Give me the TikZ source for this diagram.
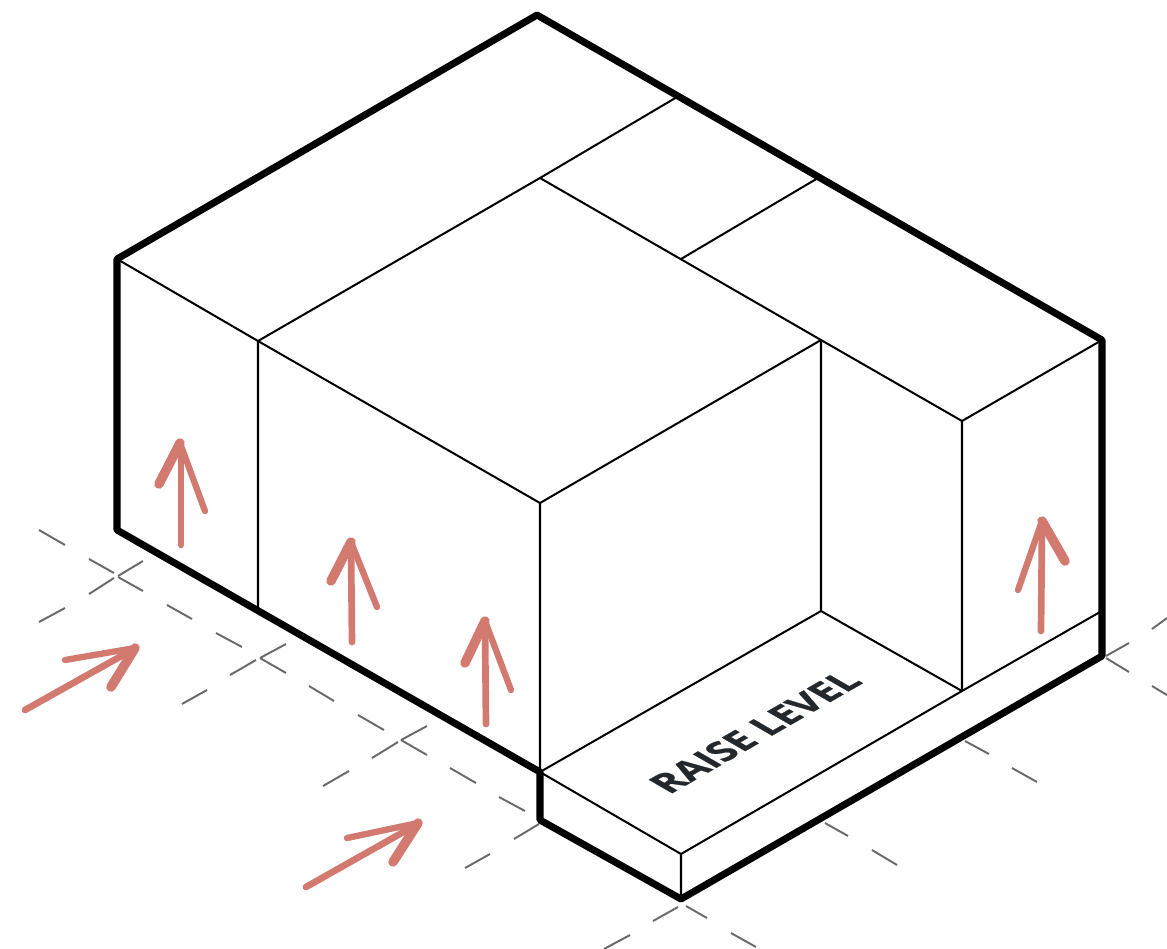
\documentclass[tikz,border=0pt]{standalone}
\usepackage{fontspec}
\setmainfont{Open Sans}
\newfontfamily\raisefont[BoldFeatures={FakeBold=0.6}]{Open Sans}
\usetikzlibrary{calc}
\definecolor{outline}{RGB}{0,0,0}
\definecolor{gridgray}{RGB}{105,105,105}
\definecolor{flow}{RGB}{210,122,111}
\definecolor{labeltext}{RGB}{34,40,43}

\begin{document}
\begin{tikzpicture}[
    x=0.02cm, y=-0.02cm,
    wall/.style={line width=4pt, draw=outline, line join=round},
    edge/.style={line width=1.15pt, draw=outline, line join=round},
    gridline/.style={line width=1.1pt, draw=gridgray},
    shaft/.style={line width=3.8pt, draw=flow, line cap=round},
    barb/.style={line width=3.6pt, draw=flow, line cap=round},
    fatbarb/.style={line width=5.4pt, draw=flow, line cap=round}
]
\useasboundingbox (0,0) rectangle (1167,948);

% Outer corners
\coordinate (top) at (537,15);
\coordinate (left_top) at (117,259);
\coordinate (left_base) at (117,530);
\coordinate (step_top) at (540,772);
\coordinate (step_base) at (540,820);
\coordinate (front) at (681,899);
\coordinate (right_base) at (1102,656);
\coordinate (right_top) at (1102,340);

% Inner corners
\coordinate (block_left) at (258,341);
\coordinate (block_left_base) at (258,608);
\coordinate (block_back) at (540,178);
\coordinate (block_front) at (540,503);
\coordinate (block_right) at (821,340);
\coordinate (block_right_base) at (821,611);
\coordinate (ridge_a) at (677,97);
\coordinate (ridge_b) at (681,259);
\coordinate (ridge_c) at (818,178);
\coordinate (wing_top) at (962,421);
\coordinate (wing_base) at (962,691);
\coordinate (wing_end) at (1100,612);
\coordinate (slab_front) at (681,854);

% Grid
\draw[gridline] (39,530) -- (65,545);
\draw[gridline] (89,559) -- (114,573);
\draw[gridline] (118,577) -- (143,591);
\draw[gridline] (167,605) -- (192,619);
\draw[gridline] (216,633) -- (242,647);
\draw[gridline] (260,658) -- (286,673);
\draw[gridline] (309,686) -- (334,701);
\draw[gridline] (358,715) -- (384,730);
\draw[gridline] (401,740) -- (427,755);
\draw[gridline] (450,768) -- (476,783);
\draw[gridline] (499,797) -- (525,811);
\draw[gridline] (143,561) -- (118,576);
\draw[gridline] (114,578) -- (89,594);
\draw[gridline] (65,608) -- (39,622);
\draw[gridline] (286,644) -- (260,658);
\draw[gridline] (256,660) -- (230,675);
\draw[gridline] (207,690) -- (182,704);
\draw[gridline] (427,726) -- (401,740);
\draw[gridline] (398,742) -- (372,758);
\draw[gridline] (349,771) -- (323,786);
\draw[gridline] (539,824) -- (514,839);
\draw[gridline] (490,854) -- (465,868);
\draw[gridline] (1167,618) -- (1152,629);
\draw[gridline] (1129,643) -- (1106,656);
\draw[gridline] (1106,658) -- (1129,672);
\draw[gridline] (1152,686) -- (1167,695);
\draw[gridline] (965,741) -- (989,754);
\draw[gridline] (1012,768) -- (1037,782);
\draw[gridline] (825,823) -- (848,836);
\draw[gridline] (872,850) -- (897,865);
\draw[gridline] (686,906) -- (707,918);
\draw[gridline] (731,933) -- (756,947);
\draw[gridline] (678,907) -- (653,921);
\draw[gridline] (630,935) -- (604,949);

% Thin edges
\draw[edge] (left_top) -- (block_left) -- (block_left_base);
\draw[edge] (block_left) -- (block_front) -- (step_top);
\draw[edge] (block_front) -- (block_right) -- (block_back) -- (block_left);
\draw[edge] (block_back) -- (ridge_a);
\draw[edge] (ridge_b) -- (ridge_c);
\draw[edge] (block_right) -- (wing_top) -- (right_top);
\draw[edge] (block_right) -- (block_right_base) -- (step_top) -- (slab_front) -- (front);
\draw[edge] (block_right_base) -- (wing_base) -- (wing_end);
\draw[edge] (wing_top) -- (wing_base) -- (slab_front);

% Outline
\draw[wall] (top) -- (left_top) -- (left_base) -- (step_top) -- (step_base) -- (front) -- (right_base) -- (right_top) -- cycle;

% Flow arrows
\draw[shaft] (181,545) -- (181,445);
\draw[fatbarb] (159,484) -- (180,443);
\draw[barb] (180,443) -- (205,511);
\draw[shaft] (352,642) -- (351,545);
\draw[fatbarb] (331,581) -- (351,542);
\draw[barb] (351,542) -- (377,607);
\draw[shaft] (486,724) -- (485,625);
\draw[fatbarb] (465,663) -- (485,621);
\draw[barb] (485,621) -- (511,690);
\draw[shaft] (1041,631) -- (1042,525);
\draw[barb] (1018,590) -- (1042,521);
\draw[fatbarb] (1042,521) -- (1065,561);
\draw[shaft] (25,710) -- (132,650);
\draw[barb] (65,660) -- (135,648);
\draw[fatbarb] (135,648) -- (111,687);
\draw[shaft] (306,887) -- (414,826);
\draw[barb] (347,838) -- (418,823);
\draw[fatbarb] (418,823) -- (393,862);

% Label
\node[font=\raisefont\bfseries\fontsize{21.5}{21.5}\selectfont, text=labeltext, inner sep=0pt, transform shape, cm={0.866,0.5,-0.866,0.5,(0,0)}] (raise_label) at (755,732) {RAISE LEVEL};

\end{tikzpicture}
\end{document}
